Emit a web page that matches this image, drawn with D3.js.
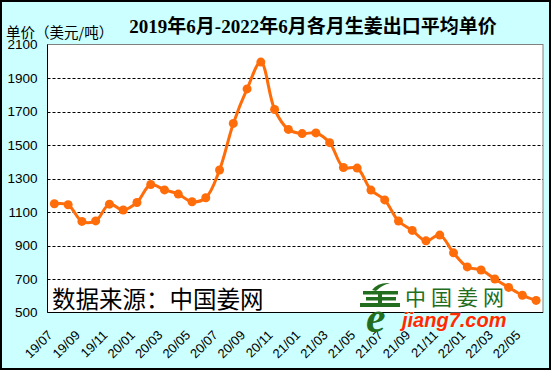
<!DOCTYPE html>
<head>
  <meta charset="UTF-8">
  <title>生姜出口平均单价</title>
  <style>
  body, html, svg{
    padding: 0;
    margin: 0;
  }
  body{
    background: #fff;
  }
  svg{
    display: block;
  }
  </style>
</head>
<body>
  <script src="https://cdn.jsdelivr.net/npm/d3@7/dist/d3.min.js"></script>
  <script type="text/javascript">
  // 月份
  var months = ['19/07','19/08','19/09','19/10','19/11','19/12',
    '20/01','20/02','20/03','20/04','20/05','20/06',
    '20/07','20/08','20/09','20/10','20/11','20/12',
    '21/01','21/02','21/03','21/04','21/05','21/06',
    '21/07','21/08','21/09','21/10','21/11','21/12',
    '22/01','22/02','22/03','22/04','22/05','22/06'];
  // 单价（美元/吨）
  var prices = [1149, 1143, 1044, 1047, 1147, 1112,
    1157, 1264, 1232, 1207, 1161, 1185,
    1351, 1629, 1835, 1995, 1712, 1593,
    1568, 1572, 1514, 1366, 1362, 1231,
    1172, 1046, 990, 928, 962, 856,
    772, 754, 700, 650, 603, 572];
  var xTicks = ['19/07','19/09','19/11','20/01','20/03','20/05','20/07','20/09','20/11',
    '21/01','21/03','21/05','21/07','21/09','21/11','22/01','22/03','22/05'];
  var yTicks = [500, 700, 900, 1100, 1300, 1500, 1700, 1900, 2100];

  var width = 556, height = 372;
  var plotL = 47.5, plotR = 543, plotT = 44.5, plotB = 312.5;
  var orange = '#ff6c0a';

  var svg = d3.select('body').append('svg')
    .attr('width', width)
    .attr('height', height);

  //背景
  svg.append('rect')
    .attr('x', 1).attr('y', 1)
    .attr('width', 549).attr('height', 368)
    .attr('fill', '#ccffff')
    .attr('stroke', '#000')
    .attr('stroke-width', 2);

  var x = d3.scaleBand().domain(months).range([plotL, plotR]);
  var y = d3.scaleLinear().domain([500, 2100]).range([plotB, plotT]);
  function cx(m) { return x(m) + x.bandwidth() / 2; }

  //绘图区
  svg.append('rect')
    .attr('x', plotL).attr('y', plotT)
    .attr('width', plotR - plotL).attr('height', plotB - plotT)
    .attr('fill', '#fff')
    .attr('stroke', '#808080');

  //网格线
  svg.append('g')
    .selectAll('line')
    .data(yTicks.filter(function(d) { return d > 500 && d < 2100; }))
    .enter()
    .append('line')
    .attr('x1', plotL).attr('x2', plotR)
    .attr('y1', function(d) { return Math.round(y(d)) + 0.5; })
    .attr('y2', function(d) { return Math.round(y(d)) + 0.5; })
    .attr('stroke', '#000')
    .attr('stroke-dasharray', '3,2');

  //坐标轴
  svg.append('line')
    .attr('x1', plotL).attr('x2', plotL)
    .attr('y1', plotT).attr('y2', plotB)
    .attr('stroke', '#000');
  svg.append('line')
    .attr('x1', plotL).attr('x2', plotR)
    .attr('y1', plotB).attr('y2', plotB)
    .attr('stroke', '#000');

  svg.append('g')
    .selectAll('text')
    .data(yTicks)
    .enter()
    .append('text')
    .attr('x', 37.5)
    .attr('y', function(d) { return y(d); })
    .attr('dy', '0.36em')
    .attr('text-anchor', 'end')
    .attr('font-family', '"Liberation Sans", Arial, sans-serif')
    .attr('font-size', 13.5)
    .attr('fill', '#000')
    .text(function(d) { return d; });

  svg.append('g')
    .selectAll('text')
    .data(xTicks)
    .enter()
    .append('text')
    .attr('transform', function(d) { return 'translate(' + (cx(d) - 1) + ',336) rotate(-45)'; })
    .attr('text-anchor', 'end')
    .attr('font-family', '"Liberation Sans", Arial, sans-serif')
    .attr('font-size', 13)
    .attr('fill', '#000')
    .text(function(d) { return d; });

  //标题
  svg.append('text')
    .attr('x', 313)
    .attr('y', 33)
    .attr('text-anchor', 'middle')
    .attr('font-family', '"Liberation Serif", "Noto Sans CJK SC", serif')
    .attr('font-weight', 'bold')
    .attr('font-size', 19)
    .attr('fill', '#000')
    .text('2019年6月-2022年6月各月生姜出口平均单价');

  svg.append('text')
    .attr('x', 6)
    .attr('y', 38)
    .attr('font-family', '"Noto Sans CJK SC", sans-serif')
    .attr('font-size', 14.5)
    .attr('fill', '#000')
    .text('单价（美元/吨）');

  //数据来源
  svg.append('text')
    .attr('x', 52)
    .attr('y', 308)
    .attr('font-family', '"Noto Sans CJK SC", sans-serif')
    .attr('font-size', 23.5)
    .attr('fill', '#000')
    .text('数据来源：中国姜网');

  //折线
  var line = d3.line()
    .x(function(d, i) { return cx(months[i]); })
    .y(function(d) { return y(d); })
    .curve(d3.curveCatmullRom.alpha(0.5));

  svg.append('path')
    .datum(prices)
    .attr('d', line)
    .attr('fill', 'none')
    .attr('stroke', orange)
    .attr('stroke-width', 3);

  svg.append('g')
    .selectAll('circle')
    .data(prices)
    .enter()
    .append('circle')
    .attr('cx', function(d, i) { return cx(months[i]); })
    .attr('cy', function(d) { return y(d); })
    .attr('r', 4.5)
    .attr('fill', orange);

  //标志
  var logo = svg.append('g').attr('fill', '#236e1e');
  logo.append('path')
    .attr('d', 'M372,290 Q378,282 390,283 Q382,285 376,291 Z');
  logo.append('rect').attr('x', 363).attr('y', 291).attr('width', 35).attr('height', 3.5);
  logo.append('rect').attr('x', 366).attr('y', 297).attr('width', 30).attr('height', 3.5);
  logo.append('rect').attr('x', 360).attr('y', 303).attr('width', 40).attr('height', 4);
  logo.append('rect').attr('x', 378).attr('y', 291).attr('width', 4).attr('height', 14);
  logo.append('text')
    .attr('x', 366)
    .attr('y', 332)
    .attr('font-family', '"Liberation Serif", serif')
    .attr('font-style', 'italic')
    .attr('font-weight', 'bold')
    .attr('font-size', 44)
    .text('e');
  logo.append('text')
    .attr('x', 405)
    .attr('y', 305)
    .attr('font-family', '"Noto Sans CJK SC", sans-serif')
    .attr('font-size', 21)
    .attr('letter-spacing', 5)
    .text('中国姜网');

  svg.append('text')
    .attr('x', 402)
    .attr('y', 327)
    .attr('font-family', '"Liberation Sans", Arial, sans-serif')
    .attr('font-style', 'italic')
    .attr('font-weight', 'bold')
    .attr('font-size', 20)
    .attr('fill', '#ff2a00')
    .attr('stroke', '#fff')
    .attr('stroke-width', 0.6)
    .attr('paint-order', 'stroke')
    .text('jiang7.com');
  </script>
</body>
</html>
